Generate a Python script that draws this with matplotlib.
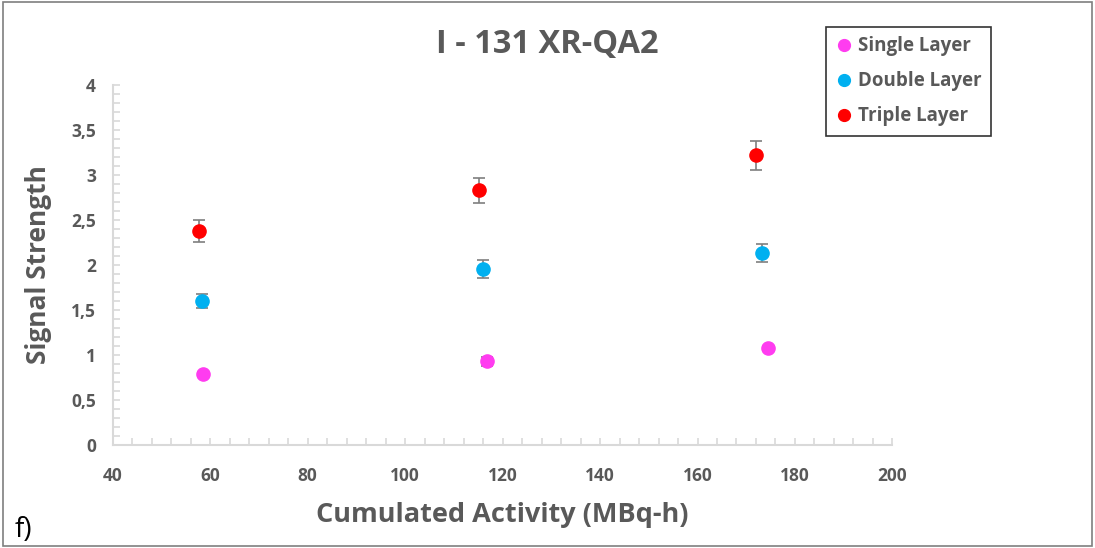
import matplotlib

matplotlib.use("Agg")
import matplotlib.pyplot as plt
from matplotlib.lines import Line2D
from matplotlib.patches import Rectangle
from matplotlib.ticker import FuncFormatter, MultipleLocator

# values
single_x = [58.5, 116.8, 174.5]
single_y = [0.79, 0.93, 1.08]
single_err = [0.02, 0.05, 0.02]

double_x = [58.3, 115.9, 173.3]
double_y = [1.60, 1.95, 2.13]
double_err = [0.08, 0.10, 0.10]

triple_x = [57.7, 115.2, 172.0]
triple_y = [2.38, 2.83, 3.22]
triple_err = [0.12, 0.14, 0.16]

GREY = "#595959"
AXIS = "#d9d9d9"
FONT = ["Open Sans", "DejaVu Sans"]

plt.rcParams["font.family"] = FONT

fig = plt.figure(figsize=(10.95, 5.48), dpi=100)
ax = fig.add_axes([0.103, 0.188, 0.712, 0.657])

series = [
    ("Single Layer", single_x, single_y, single_err, "#ff3cf0"),
    ("Double Layer", double_x, double_y, double_err, "#00b0f0"),
    ("Triple Layer", triple_x, triple_y, triple_err, "#ff0000"),
]
handles = []
for name, xs, ys, es, c in series:
    ax.errorbar(xs, ys, yerr=es, fmt="o", color=c, ms=9.5, mec=c,
                ecolor="#7f7f7f", elinewidth=1.2, capsize=4, capthick=1.2,
                zorder=3)
    handles.append(Line2D([], [], ls="none", marker="o", ms=8.5,
                          color=c, label=name))

ax.set_xlim(40, 200)
ax.set_ylim(0, 4)
ax.xaxis.set_major_locator(MultipleLocator(20))
ax.xaxis.set_minor_locator(MultipleLocator(4))
ax.yaxis.set_major_locator(MultipleLocator(0.5))
ax.yaxis.set_minor_locator(MultipleLocator(0.1))
ax.yaxis.set_major_formatter(FuncFormatter(
    lambda v, p: f"{v:g}".replace(".", ",")))

for s in ["top", "right"]:
    ax.spines[s].set_visible(False)
for s in ["left", "bottom"]:
    ax.spines[s].set_color(AXIS)
    ax.spines[s].set_linewidth(1.5)
ax.tick_params(which="both", direction="in", color=AXIS, width=1.2,
               length=5, labelcolor=GREY, labelsize=12.5)
ax.tick_params(axis="x", pad=16)
ax.tick_params(axis="y", pad=12)
for lab in ax.get_xticklabels() + ax.get_yticklabels():
    lab.set_fontweight("bold")

ax.set_xlabel("Cumulated Activity (MBq-h)", fontsize=19.5, fontweight="bold",
              color=GREY, labelpad=12)
ax.set_ylabel("Signal Strength", fontsize=19, fontweight="bold",
              color=GREY, labelpad=14)
fig.text(0.5, 0.918, "I - 131 XR-QA2", ha="center", va="center",
         fontsize=23.5, fontweight="bold", color=GREY)

leg = fig.legend(handles=handles, loc="upper left",
                 bbox_to_anchor=(0.754, 0.951),
                 frameon=True, fancybox=False, edgecolor="black",
                 handletextpad=0.2, handlelength=1.0, borderpad=0.5,
                 labelspacing=0.8, borderaxespad=0,
                 prop={"family": FONT, "weight": "bold", "size": 13.5})
leg.get_frame().set_linewidth(1.2)
for t in leg.get_texts():
    t.set_color(GREY)

fig.text(0.013, 0.02, "f)", fontsize=20, color="black")

fig.patches.append(Rectangle((0.003, 0.003), 0.994, 0.994,
                             transform=fig.transFigure, fill=False,
                             edgecolor="#7f7f7f", linewidth=1.2))

fig.savefig("out.png", dpi=100)
